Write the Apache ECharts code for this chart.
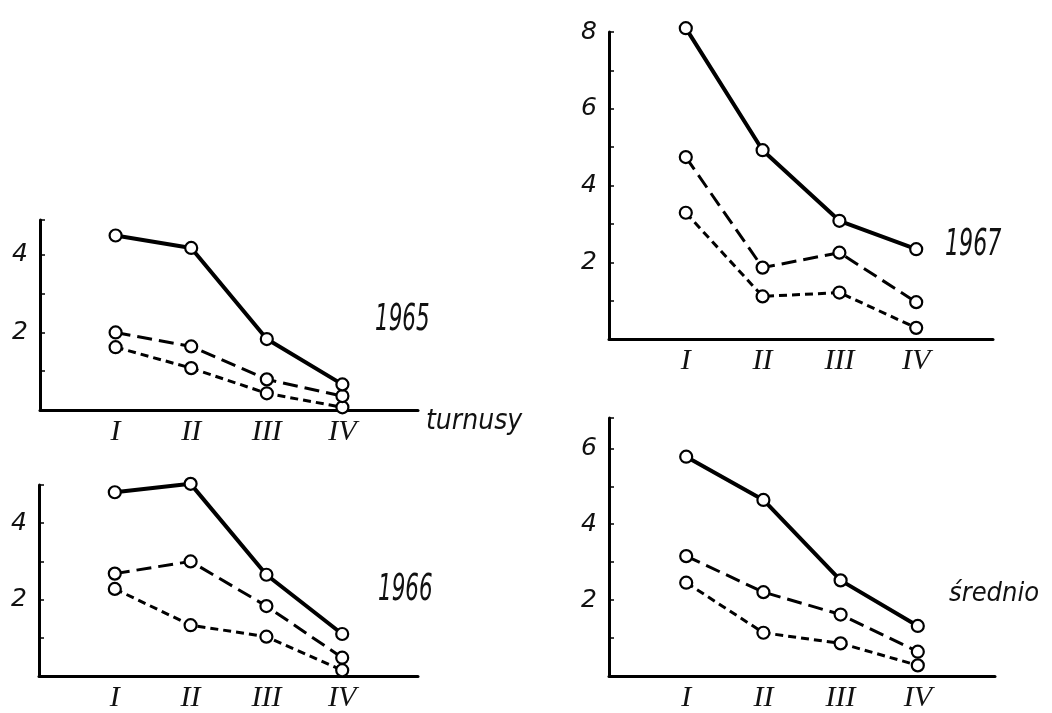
<!DOCTYPE html>
<html>
<head>
<meta charset="utf-8">
<title>turnusy 1965-1967</title>
<script src="https://cdn.jsdelivr.net/npm/echarts@6/dist/echarts.min.js"></script>
<style>
    html, body { margin: 0; padding: 0; background: #fff; }
    #chart { width: 1052px; height: 713px; }
</style>
</head>
<body>
<div id="chart"></div>
<script>
    // kategorie (turnusy) na osi x
    var categories = ['I', 'II', 'III', 'IV'];

    // 1965
    var solid1965 = [4.5, 4.18, 1.83, 0.66];
    var longDash1965 = [2.0, 1.64, 0.79, 0.36];
    var shortDash1965 = [1.62, 1.08, 0.43, 0.07];

    // 1966
    var solid1966 = [4.81, 5.03, 2.65, 1.10];
    var longDash1966 = [2.68, 3.0, 1.83, 0.48];
    var shortDash1966 = [2.28, 1.33, 1.03, 0.15];

    // 1967
    var solid1967 = [8.1, 4.92, 3.08, 2.34];
    var longDash1967 = [4.74, 1.86, 2.25, 0.96];
    var shortDash1967 = [3.29, 1.11, 1.21, 0.29];

    // srednio
    var solidAvg = [5.78, 4.64, 2.52, 1.32];
    var longDashAvg = [3.16, 2.21, 1.62, 0.64];
    var shortDashAvg = [2.46, 1.14, 0.86, 0.28];

    var panelNames = ['1965', '1966', '1967', 'średnio'];
    var yTop = [4.9, 5.0, 8, 6.8];

    var grids = [
        {left: 40, top: 220, width: 378, height: 190},
        {left: 39, top: 485, width: 379, height: 192},
        {left: 609, top: 32, width: 384, height: 307},
        {left: 609, top: 418, width: 386, height: 264}
    ];

    var panels = [
        [solid1965, longDash1965, shortDash1965],
        [solid1966, longDash1966, shortDash1966],
        [solid1967, longDash1967, shortDash1967],
        [solidAvg, longDashAvg, shortDashAvg]
    ];

    var lineStyles = [
        {type: 'solid', width: 4},
        {type: [15, 7], width: 3},
        {type: [8, 5], width: 3}
    ];

    function toPoints(values) {
        return values.map(function (v, i) { return [i + 1, v]; });
    }

    var xAxes = [], yAxes = [], series = [];
    grids.forEach(function (g, k) {
        xAxes.push({
            type: 'value', gridIndex: k, min: 0, max: 5, interval: 1,
            axisLine: {show: true, lineStyle: {color: '#000', width: 3}},
            axisTick: {show: false},
            splitLine: {show: false},
            axisLabel: {
                margin: 7,
                color: '#111',
                fontFamily: 'Liberation Serif',
                fontStyle: 'italic',
                fontSize: 30,
                formatter: function (v) { return categories[v - 1] || ''; }
            }
        });
        yAxes.push({
            type: 'value', gridIndex: k, min: 0, max: yTop[k], interval: 1,
            axisLine: {show: true, lineStyle: {color: '#000', width: 3}},
            axisTick: {show: true, inside: true, length: 5, lineStyle: {color: '#000', width: 1.5}},
            splitLine: {show: false},
            axisLabel: {
                margin: 12,
                color: '#111',
                fontFamily: 'DejaVu Sans',
                fontStyle: 'italic',
                fontSize: 25,
                formatter: function (v) { return (v > 0 && v % 2 === 0) ? String(v) : ''; }
            }
        });
        panels[k].forEach(function (vals, s) {
            series.push({
                type: 'line',
                xAxisIndex: k,
                yAxisIndex: k,
                data: toPoints(vals),
                clip: false,
                symbol: 'circle',
                symbolSize: 12,
                z: 3 - s,
                lineStyle: {color: '#000', width: lineStyles[s].width, type: lineStyles[s].type},
                itemStyle: {color: '#fff', borderColor: '#000', borderWidth: 2.2},
                emphasis: {disabled: true},
                animation: false
            });
        });
    });

    var labelFont = 'italic 200 37px "DejaVu Sans"';
    var option = {
        animation: false,
        grid: grids,
        xAxis: xAxes,
        yAxis: yAxes,
        series: series,
        graphic: [
            {type: 'text', left: 375, top: 302, scaleX: 0.58, style: {text: panelNames[0], font: labelFont, fill: '#111'}},
            {type: 'text', left: 378, top: 572, scaleX: 0.58, style: {text: panelNames[1], font: labelFont, fill: '#111'}},
            {type: 'text', left: 945, top: 227, scaleX: 0.6, style: {text: panelNames[2], font: labelFont, fill: '#111'}},
            {type: 'text', left: 949, top: 580, style: {text: panelNames[3], font: 'italic 27px "DejaVu Sans Condensed"', fill: '#111'}},
            {type: 'text', left: 426, top: 408, style: {text: 'turnusy', font: 'italic 28px "DejaVu Sans Condensed"', fill: '#111'}}
        ]
    };

    var chart = echarts.init(document.getElementById('chart'));
    chart.setOption(option);
</script>
</body>
</html>
